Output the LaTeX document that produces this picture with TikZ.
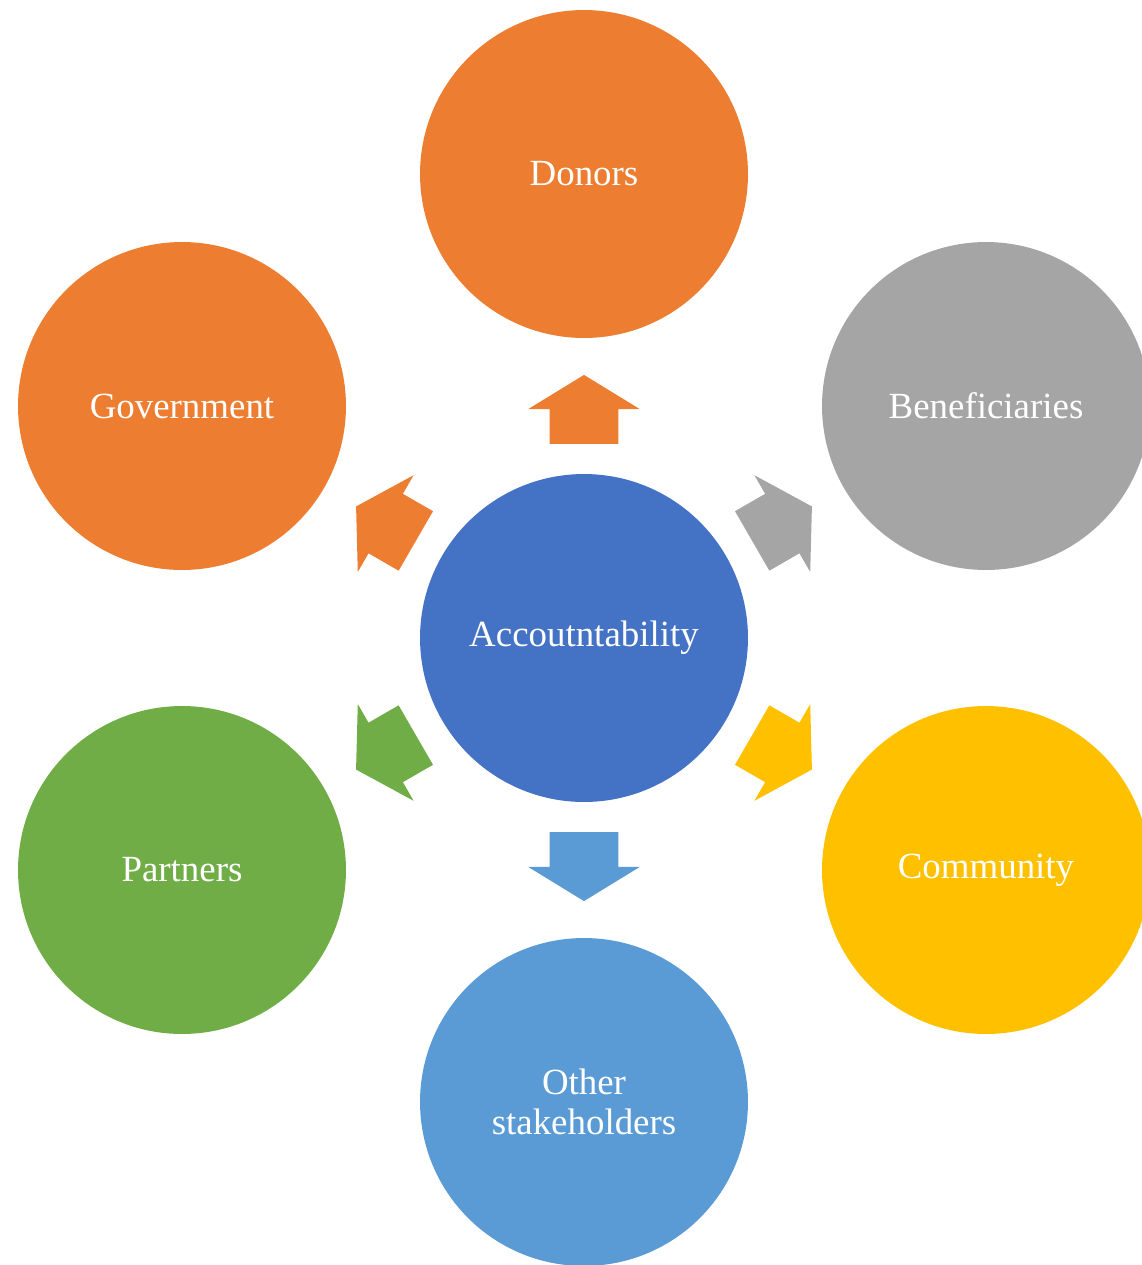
\documentclass[tikz,border=0pt]{standalone}
\usepackage{fontspec}
\setmainfont{Liberation Serif}
\usetikzlibrary{shapes.arrows,calc}
\definecolor{hubblue}{HTML}{4472C4}
\definecolor{orng}{HTML}{ED7D31}
\definecolor{grey}{HTML}{A5A5A5}
\definecolor{gold}{HTML}{FFC000}
\definecolor{leaf}{HTML}{70AD47}
\definecolor{sky}{HTML}{5B9BD5}
\begin{document}
\begin{tikzpicture}[x=0.02cm, y=-0.02cm,
  party/.style={circle, minimum size=6.56cm, inner sep=0pt, text=white, align=center, font=\fontsize{21}{22.5}\selectfont},
  blk/.style={single arrow, minimum height=1.38cm, inner xsep=0pt, inner ysep=0.68cm, single arrow head extend=0.43cm, single arrow tip angle=117}]
  \useasboundingbox (0,0) rectangle (1142,1265);
  \clip (0,0) rectangle (1142,1265);
  \node[party, fill=hubblue] (acc) at (584,638) {Accoutntability};
  \node[party, fill=orng] (donors) at (584,174) {Donors};
  \node[party, fill=orng] (gov) at (182,406) {Government};
  \node[party, fill=grey] (benef) at (986,406) {Beneficiaries};
  \node[party, fill=leaf] (partners) at (182,870) {Partners};
  \node[party, fill=gold] (comm) at (986,870) {Community};
  \node[party, fill=sky] (others) at (584,1102) {Other\\ stakeholders};
  \node[blk, fill=orng, rotate=90] (toDonors) at ($(acc)!0.47!(donors)$) {};
  \node[blk, fill=orng, rotate=150] (toGov) at ($(acc)!0.47!(gov)$) {};
  \node[blk, fill=grey, rotate=30] (toBenef) at ($(acc)!0.47!(benef)$) {};
  \node[blk, fill=leaf, rotate=210] (toPartners) at ($(acc)!0.47!(partners)$) {};
  \node[blk, fill=gold, rotate=-30] (toComm) at ($(acc)!0.47!(comm)$) {};
  \node[blk, fill=sky, rotate=-90] (toOthers) at ($(acc)!0.47!(others)$) {};
\end{tikzpicture}
\end{document}
